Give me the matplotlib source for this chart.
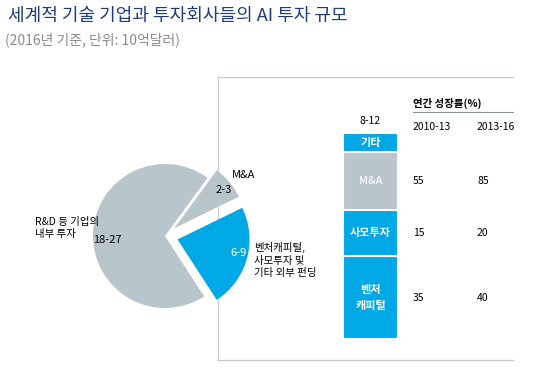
import matplotlib.pyplot as plt
import matplotlib.transforms as mtransforms
import numpy as np

plt.rcParams['font.family'] = ['Noto Sans CJK KR', 'DejaVu Sans']

# pie: midpoints of the ranges (10억달러)
pie_names = ['벤처캐피털,\n사모투자 및\n기타 외부 펀딩', 'M&A', 'R&D 등 기업의\n내부 투자']
pie_ranges = ['6-9', '2-3', '18-27']
pie_mid = [7.5, 2.5, 22.5]

# stacked bar of external investment (bottom -> top)
bar_names = ['벤처\n캐피털', '사모투자', 'M&A', '기타']
bar_vals = [4.0, 2.25, 2.8, 0.9]
bar_total_label = '8-12'

# annual growth rates (%)
periods = ['2010-13', '2013-16']
growth = {'M&A': [55, 85], '사모투자': [15, 20], '벤처\n캐피털': [35, 40]}

title = '세계적 기술 기업과 투자회사들의 AI 투자 규모'
subtitle = '(2016년 기준, 단위: 10억달러)'

gray = '#b8c5cb'
blue = '#00a8e6'
W, H = 560, 380

fig = plt.figure(figsize=(W / 100, H / 100), dpi=100)
ax = fig.add_axes([0, 0, 1, 1])

# frame lines of the right panel
ax.plot([218, 218], [H - 77, H - 360], color='#c8cdd0', lw=1, zorder=1)
ax.plot([218, 513], [H - 77, H - 77], color='#c8cdd0', lw=1, zorder=1)
ax.plot([218, 513], [H - 360, H - 360], color='#c8cdd0', lw=1, zorder=1)

# explode is in data units here (pixels)
wedges, _ = ax.pie(pie_mid, colors=[blue, gray, gray], startangle=-57,
                   counterclock=True, explode=[13, 12, 0],
                   radius=72, center=(165, H - 236),
                   wedgeprops=dict(linewidth=0, zorder=3))
ax.set_xlim(0, W)
ax.set_ylim(0, H)
ax.set_aspect('auto')
ax.axis('off')

# pie labels
ax.text(107, H - 240, pie_ranges[2], fontsize=8, ha='center', va='center', zorder=5)
ax.text(35, H - 228, pie_names[2], fontsize=7.5, ha='left', va='center', linespacing=1.3, zorder=5)
ax.text(224, H - 190, pie_ranges[1], fontsize=8, ha='center', va='center', zorder=5)
ax.text(232, H - 175, pie_names[1], fontsize=8, ha='left', va='center', zorder=5)
ax.text(239, H - 253, pie_ranges[0], fontsize=8, ha='center', va='center', color='white', zorder=5)
ax.text(254, H - 260, pie_names[0], fontsize=7.5, ha='left', va='center', linespacing=1.3, zorder=5)

# title
fig.text(8 / W, 1 - 16 / H, title, fontsize=13, color='#1f3b78', ha='left', va='center')
fig.text(5 / W, 1 - 40 / H, subtitle, fontsize=10, color='#8a8a8a', ha='left', va='center')

# stacked bar
total = sum(bar_vals)
bx = fig.add_axes([343 / W, (H - 339) / H, 55 / W, 206 / H])
bottoms = np.concatenate([[0], np.cumsum(bar_vals)[:-1]])
bar_colors = [blue, blue, gray, blue]
bx.bar([0] * len(bar_vals), bar_vals, bottom=bottoms, width=1, color=bar_colors,
       edgecolor='white', linewidth=1.5)
bx.set_xlim(-0.5, 0.5)
bx.set_ylim(0, total)
bx.axis('off')
for name, v, b in zip(bar_names, bar_vals, bottoms):
    col = '#eef2f4' if name == 'M&A' else 'white'
    bx.text(0, b + v / 2, name, ha='center', va='center', color=col,
            fontsize=8 if name != 'M&A' else 7.5, fontweight='bold', linespacing=1.3)
bx.text(0, total + 0.35, bar_total_label, ha='center', va='bottom', fontsize=7.5)

# growth table
tr = mtransforms.blended_transform_factory(fig.transFigure, bx.transData)
col_x = [413 / W, 477 / W]
for name, v, b in zip(bar_names, bar_vals, bottoms):
    if name in growth:
        for cx, g in zip(col_x, growth[name]):
            fig.text(cx, b + v / 2, str(g), transform=tr, ha='left', va='center', fontsize=7.5)
for cx, p in zip(col_x, periods):
    fig.text(cx, 1 - 127 / H, p, ha='left', va='center', fontsize=7.5)
fig.text(413 / W, 1 - 103 / H, '연간 성장률(%)', ha='left', va='center', fontsize=7.5, fontweight='bold')
ax.plot([413, 513], [H - 112, H - 112], color='#909598', lw=0.8)

fig.savefig('out.png', dpi=100, facecolor='white')
